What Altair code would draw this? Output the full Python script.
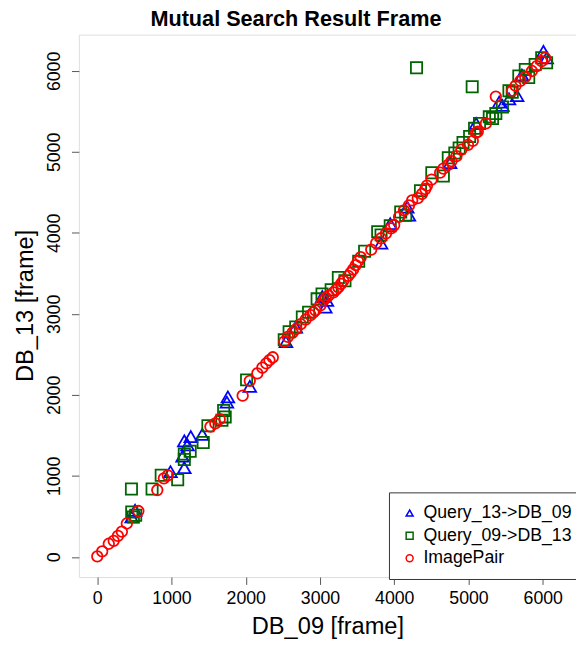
import altair as alt
import pandas as pd

# ---- data ----
series_names = ["Query_13->DB_09", "Query_09->DB_13", "ImagePair"]
series_colors = ["#0000FF", "#006400", "#FF0000"]
series_shapes = ["triangle-up", "square", "circle"]
series_sizes = [165, 130, 115]

q13_x = [464, 509, 986, 1149, 1172, 1172, 1215, 1259, 1414, 1746, 1759, 2054, 2541, 2673, 3031,
         3071, 3093, 3822, 3946, 4175, 4197, 4752, 5103, 5413, 5457, 5545, 5655, 5720, 6009, 6053]
q13_y = [494, 576, 1053, 1243, 1101, 1433, 1384, 1486, 1514, 1911, 1976, 2106, 2659, 2838, 3215,
         3084, 3166, 3874, 4113, 4319, 4219, 4867, 5352, 5615, 5574, 5655, 5695, 5950, 6242, 6162]

q09_x = [464, 517, 486, 460, 738, 861, 1083, 1172, 1251, 1172, 1427, 1490, 1702, 1723, 1679, 2011,
         2518, 2584, 2673, 2762, 2846, 2961, 3027, 3150, 3247, 3336, 3521, 3601, 3777, 3822, 3946,
         4087, 4154, 4353, 4506, 4661, 4728, 4816, 4874, 4926, 5015, 5082, 5148, 5280, 5324, 5368,
         5457, 5545, 5589, 5678, 5765, 5811, 5898, 5986, 6052, 4300, 5050]
q09_y = [555, 515, 494, 838, 838, 1008, 952, 1271, 1304, 1202, 1413, 1620, 1809, 1729, 1688, 2186,
         2680, 2781, 2838, 2963, 3020, 3186, 3247, 3299, 3449, 3409, 3651, 3773, 4016, 3976, 4089,
         4259, 4219, 4522, 4744, 4704, 4927, 4988, 5048, 5116, 5190, 5291, 5352, 5433, 5412, 5473,
         5554, 5756, 5737, 5938, 6019, 5919, 6080, 6162, 6101, 6040, 5804]

ip_x = [0, 66, 155, 221, 278, 331, 398, 553, 808, 897, 950, 1524, 1590, 1649, 1958, 2054, 2156,
        2223, 2276, 2319, 2364, 2518, 2567, 2630, 2680, 2740, 2806, 2872, 2912, 2938, 3005, 3048,
        3078, 3115, 3181, 3217, 3247, 3283, 3313, 3380, 3413, 3446, 3482, 3512, 3548, 3690, 3756,
        3822, 3889, 3955, 3999, 4065, 4131, 4198, 4241, 4317, 4374, 4419, 4440, 4502, 4618, 4661,
        4727, 4771, 4838, 4904, 4993, 5058, 5103, 5125, 5235, 5368, 5589, 5633, 5699, 5765, 5854,
        5920, 5986, 6031]
ip_y = [8, 69, 163, 199, 260, 312, 413, 567, 826, 971, 1008, 1608, 1648, 1700, 1991, 2174, 2267,
        2336, 2389, 2429, 2465, 2659, 2717, 2769, 2814, 2874, 2931, 2984, 3020, 3045, 3105, 3166,
        3202, 3226, 3267, 3300, 3327, 3372, 3409, 3469, 3506, 3551, 3603, 3651, 3700, 3794, 3874,
        3934, 3995, 4056, 4097, 4198, 4279, 4340, 4401, 4429, 4481, 4542, 4583, 4658, 4744, 4793,
        4840, 4887, 4947, 5027, 5088, 5136, 5239, 5251, 5352, 5683, 5756, 5817, 5877, 5926, 5999,
        6060, 6120, 6162]

tick_values = [0, 1000, 2000, 3000, 4000, 5000, 6000]
axis_domain = [-248, 6448]

frames = []
for name, xs, ys in zip(series_names, [q13_x, q09_x, ip_x], [q13_y, q09_y, ip_y]):
    frames.append(pd.DataFrame({"x": xs, "y": ys, "series": name}))

FONT = "Liberation Sans"

x_enc = alt.X("x:Q",
              scale=alt.Scale(domain=axis_domain, nice=False, zero=False),
              axis=alt.Axis(values=tick_values, format="d", title="DB_09 [frame]", grid=False,
                            domain=False, tickSize=7.5, tickColor="#555555", labelColor="black",
                            labelFontSize=18, labelFont=FONT, labelPadding=5, labelFlush=False,
                            titleFont=FONT, titleFontSize=24, titleFontWeight="normal",
                            titleColor="black", titleBaseline="alphabetic", titleY=57))
y_enc = alt.Y("y:Q",
              scale=alt.Scale(domain=axis_domain, nice=False, zero=False),
              axis=alt.Axis(values=tick_values, format="d", title="DB_13 [frame]", grid=False,
                            domain=False, tickSize=7.5, tickColor="#555555", labelColor="black",
                            labelFontSize=18, labelFont=FONT, labelAngle=270,
                            labelAlign="center", labelBaseline="alphabetic", labelPadding=12,
                            labelFlush=False,
                            titleFont=FONT, titleFontSize=24, titleFontWeight="normal",
                            titleColor="black", titleAngle=270, titleBaseline="alphabetic",
                            titleAlign="center", titleX=-47, titleY=275))
color_enc = alt.Color("series:N",
                      scale=alt.Scale(domain=series_names, range=series_colors),
                      legend=alt.Legend(title=None, orient="none", legendX=315, legendY=465,
                                        labelFont=FONT, labelFontSize=18, labelColor="black",
                                        symbolSize=50, symbolStrokeWidth=1.5, labelOffset=5,
                                        rowPadding=5, padding=12, strokeColor="#333333",
                                        fillColor="white"))
shape_enc = alt.Shape("series:N", scale=alt.Scale(domain=series_names, range=series_shapes))

layers = []
for df, sz in zip(frames, series_sizes):
    layers.append(
        alt.Chart(df).mark_point(filled=False, strokeWidth=1.8, opacity=1, size=sz).encode(
            x=x_enc, y=y_enc, color=color_enc, shape=shape_enc
        )
    )

chart = alt.layer(*layers).properties(
    width=505,
    height=551,
    title=alt.TitleParams("Mutual Search Result Frame", font=FONT, fontSize=22,
                          fontWeight="bold", color="black", anchor="middle",
                          baseline="alphabetic", offset=5, dx=-32, dy=18),
    autosize=alt.AutoSizeParams(type="none"),
    padding={"left": 72, "top": 22, "right": 0, "bottom": 65},
).configure_view(
    stroke="#555555", strokeWidth=1
).configure(background="white")

chart.save("out.html", embed_options={"renderer": "svg", "actions": False})
